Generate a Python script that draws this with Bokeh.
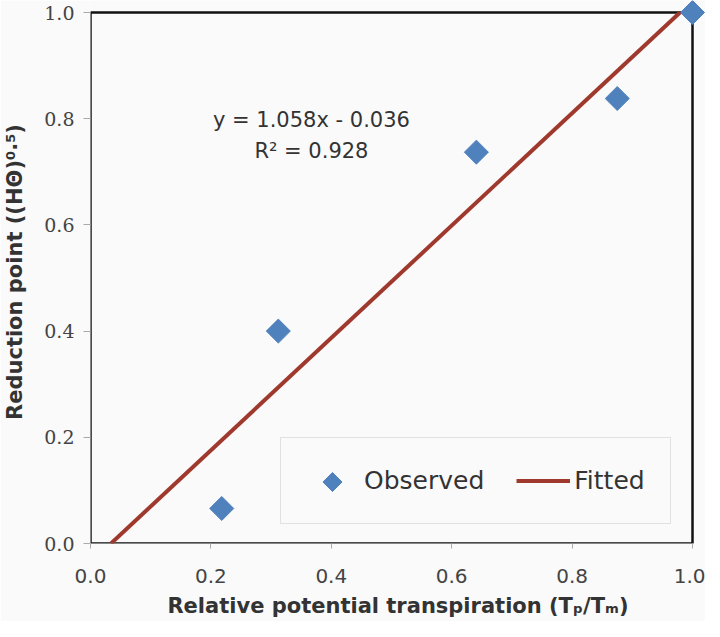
import numpy as np
from bokeh.plotting import figure
from bokeh.models import (Range1d, FixedTicker, Label, BoxAnnotation, Legend,
                          LegendItem, PrintfTickFormatter)
from bokeh.embed import file_html
from bokeh.resources import INLINE

# ---------------- data ----------------
tp_tm = [0.218, 0.312, 0.641, 0.875, 1.0]          # relative potential transpiration
reduction_pt = [0.066, 0.400, 0.737, 0.838, 1.0]   # reduction point ((H theta)^0.5)
fit_slope = 1.058
fit_intercept = -0.036
fit_r2 = 0.928
x_ticks = [0.0, 0.2, 0.4, 0.6, 0.8, 1.0]
y_ticks = [0.0, 0.2, 0.4, 0.6, 0.8, 1.0]
series_names = ["Observed", "Fitted"]

# fitted line between y = 0 and y = 1
fit_y = np.array([0.0, 1.0])
fit_x = (fit_y - fit_intercept) / fit_slope

# ---------------- layout ----------------
bg = "#fafafa"
blue = "#4F81BD"
red = "#A0392D"
txt = "#333333"

left_border = 89
px_x = 602.0            # pixels per x unit
px_y = 531.0            # pixels per y unit
frame_w = 704 - left_border
frame_h = 543
x_end = frame_w / px_x
y_end = frame_h / px_y

p = figure(frame_width=frame_w, frame_height=frame_h,
           x_range=Range1d(0, x_end), y_range=Range1d(0, y_end),
           output_backend="svg", toolbar_location=None,
           min_border_left=left_border, min_border_right=0, min_border_top=0,
           min_border_bottom=78,
           background_fill_color=bg, border_fill_color=bg,
           outline_line_color=None)

p.xgrid.visible = False
p.ygrid.visible = False

# frame box
box = BoxAnnotation(left=0, right=1, bottom=0, top=1, fill_alpha=0,
                    line_color="#111111", line_alpha=1.0, line_width=2.5,
                    level="underlay")
p.add_layout(box)

ln = p.line(fit_x, fit_y, line_color=red, line_width=4)
sc = p.scatter(tp_tm, reduction_pt, marker="square", size=17, angle=np.pi / 4,
               fill_color=blue, line_color=blue)

# axes
for ax, ticks in ((p.xaxis, x_ticks), (p.yaxis, y_ticks)):
    ax.ticker = FixedTicker(ticks=ticks)
    ax.formatter = PrintfTickFormatter(format="%.1f")
    ax.axis_line_color = None
    ax.major_tick_line_color = "#aaaaaa"
    ax.major_tick_in = 0
    ax.minor_tick_line_color = None
    ax.major_label_text_color = "#444444"
    ax.axis_label_text_font = "DejaVu Sans"
    ax.axis_label_text_font_style = "bold"
    ax.axis_label_text_font_size = "21px"
    ax.axis_label_text_color = txt

p.xaxis.major_tick_out = 5
p.xaxis.major_label_standoff = 20
p.xaxis.major_label_text_font = "DejaVu Sans"
p.xaxis.major_label_text_font_size = "20px"
p.xaxis.axis_label_standoff = 8
p.xaxis.axis_label = "Relative potential transpiration (T\u209a/T\u2098)"

p.yaxis.major_tick_out = 7
p.yaxis.major_label_standoff = 9
p.yaxis.major_label_text_font = "DejaVu Serif"
p.yaxis.major_label_text_font_size = "19px"
p.yaxis.axis_label_standoff = 14
p.yaxis.axis_label = "Reduction point ((H\u0398)\u2070\u00b7\u2075)"

# equation
eq1 = f"y = {fit_slope:.3f}x - {abs(fit_intercept):.3f}"
eq2 = f"R\u00b2 = {fit_r2:.3f}"
for t, yy in ((eq1, 0.798), (eq2, 0.739)):
    p.add_layout(Label(x=0.367, y=yy, text=t, text_align="center",
                       text_baseline="alphabetic", text_font="DejaVu Sans",
                       text_font_size="21px", text_color=txt))

# legend (horizontal, boxed)
leg_loc = (190, 19)
leg_pad = 25
glyph_w = 54
glyph_h = 35
# invisible stand-in so the legend slot stays empty; a rotated key is drawn beneath
key_stub = p.scatter(x=[], y=[], marker="square", fill_alpha=0, line_alpha=0)
legend = Legend(items=[LegendItem(label=series_names[0], renderers=[key_stub]),
                       LegendItem(label=series_names[1], renderers=[ln])],
                location=leg_loc, orientation="horizontal",
                padding=leg_pad, margin=0, spacing=32,
                glyph_width=glyph_w, glyph_height=glyph_h, label_height=glyph_h,
                label_standoff=4,
                label_text_font="DejaVu Sans", label_text_font_size="25px",
                label_text_color=txt,
                border_line_color="#c8c8c8", border_line_width=1,
                background_fill_alpha=0)
p.add_layout(legend)

key_x = (leg_loc[0] + leg_pad + glyph_w / 2) / px_x
key_y = (leg_loc[1] + leg_pad + glyph_h / 2) / px_y
p.scatter([key_x], [key_y], marker="square", size=13.5, angle=np.pi / 4,
          fill_color=blue, line_color=blue)

open("out.html", "w").write(file_html(p, INLINE))
